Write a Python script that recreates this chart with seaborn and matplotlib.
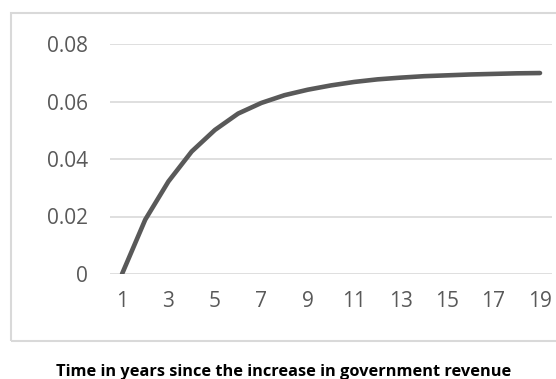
import matplotlib.pyplot as plt
import pandas as pd
import seaborn as sns
from matplotlib.patches import Rectangle

years = list(range(1, 20))
effect = [0.0, 0.0189, 0.0322, 0.0426, 0.0501, 0.0558, 0.0595, 0.0622, 0.0641,
          0.0656, 0.0668, 0.0677, 0.0683, 0.0688, 0.0691, 0.0694, 0.0696,
          0.0698, 0.0699]
y_ticks = [0, 0.02, 0.04, 0.06, 0.08]
y_labels = ['0', '0.02', '0.04', '0.06', '0.08']
x_ticks = [1, 3, 5, 7, 9, 11, 13, 15, 17, 19]
x_title = 'Time in years since the increase in government revenue'


def main():
    sns.set_style('white')
    plt.rcParams['font.family'] = ['Open Sans', 'DejaVu Sans']

    df = pd.DataFrame({'year': years, 'effect': effect})

    fig = plt.figure(figsize=(5.56, 3.79), dpi=100)
    ax = fig.add_axes([110.4 / 556, 1 - 274 / 379, 441.2 / 556, 230 / 379])

    # chart border, Excel style
    fig.patches.append(Rectangle((11 / 556, 1 - 341 / 379), 0.99, 328 / 379,
                                 transform=fig.transFigure, fill=False,
                                 edgecolor='#d9d9d9', linewidth=1.5))

    sns.lineplot(data=df, x='year', y='effect', ax=ax, color='#595959',
                 linewidth=3.3, solid_capstyle='round', solid_joinstyle='round')

    ax.set_xlim(0.5, 19.5)
    ax.set_ylim(0, 0.08)
    ax.set_yticks(y_ticks)
    ax.set_yticklabels(y_labels)
    ax.set_xticks(x_ticks)
    ax.set_xticklabels([str(t) for t in x_ticks])
    ax.yaxis.grid(True, color='#d9d9d9', linewidth=1.2)
    ax.set_axisbelow(True)
    for s in ax.spines.values():
        s.set_visible(False)
    ax.tick_params(axis='both', length=0, labelsize=15, labelcolor='#595959')
    ax.tick_params(axis='y', pad=16)
    ax.tick_params(axis='x', pad=12)
    ax.set_xlabel('')
    ax.set_ylabel('')

    fig.text(284 / 556, 1 - 372 / 379, x_title, ha='center', va='center',
             fontsize=11.8, fontweight='bold', color='black')

    fig.savefig('out.png', dpi=100)


if __name__ == '__main__':
    main()
